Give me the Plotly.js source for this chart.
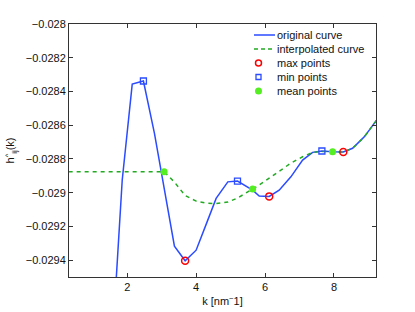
<!DOCTYPE html>
<html>
<head>
<meta charset="utf-8">
<script src="https://cdn.plot.ly/plotly-3.0.1.min.js"></script>
<style>html,body{margin:0;padding:0;background:#fff;}#chart{width:415px;height:312px;}</style>
</head>
<body>
<div id="chart"></div>
<script>
// original curve
const kOrig = [1.55, 1.855, 2.145, 2.47, 2.79, 3.08, 3.37, 3.68, 4.0, 4.29, 4.58, 4.92, 5.2, 5.64, 5.83, 6.12, 6.41, 6.75, 7.09, 7.38, 7.65, 7.96, 8.27, 8.54, 8.88, 9.25];
const hOrig = [-0.02995, -0.028925, -0.028356, -0.028338, -0.028648, -0.028985, -0.029317, -0.029404, -0.029341, -0.029188, -0.029034, -0.028936, -0.028931, -0.028985, -0.029020, -0.029022, -0.028985, -0.028906, -0.028807, -0.028761, -0.028753, -0.028757, -0.028759, -0.028737, -0.028669, -0.028567];
// interpolated curve
const kInterp = [0.3, 3.07, 3.37, 3.68, 4.0, 4.3, 4.58, 4.92, 5.2, 5.64, 5.83, 6.12, 6.41, 6.75, 7.09, 7.38, 7.65, 7.96, 8.27, 8.54, 8.88, 9.25];
const hInterp = [-0.028876, -0.028876, -0.028937, -0.029017, -0.029050, -0.029062, -0.029065, -0.029056, -0.029032, -0.028979, -0.028955, -0.028914, -0.028872, -0.028825, -0.028787, -0.028761, -0.028756, -0.028757, -0.028759, -0.028737, -0.028669, -0.028567];
// extrema and means
const kMax = [3.68, 6.12, 8.27];
const hMax = [-0.029404, -0.029022, -0.028759];
const kMin = [2.47, 5.2, 7.65];
const hMin = [-0.028338, -0.028931, -0.028753];
const kMean = [3.07, 5.64, 7.96];
const hMean = [-0.028876, -0.028979, -0.028757];
// ticks
const xTicks = [2, 4, 6, 8];
const yTicks = [-0.028, -0.0282, -0.0284, -0.0286, -0.0288, -0.029, -0.0292, -0.0294];
const yTickText = yTicks.map(v => '\u2212' + String(Math.abs(v)));
// legend labels
const legendLabels = ['original curve', 'interpolated curve', 'max points', 'min points', 'mean points'];

const BLUE = '#2a4bff', DGREEN = '#22aa22', RED = '#ff0000', LGREEN = '#55ee22';
const FONT = 'Liberation Sans, Arial, sans-serif';

const traces = [
  {x: kOrig, y: hOrig, mode: 'lines', name: legendLabels[0], line: {color: BLUE, width: 1.5}},
  {x: kInterp, y: hInterp, mode: 'lines', name: legendLabels[1], line: {color: DGREEN, width: 1.5, dash: '4px,4px'}},
  {x: kMax, y: hMax, mode: 'markers', name: legendLabels[2], cliponaxis: false,
   marker: {symbol: 'circle-open', size: 7, color: RED, line: {width: 1.5, color: RED}}},
  {x: kMin, y: hMin, mode: 'markers', name: legendLabels[3], cliponaxis: false,
   marker: {symbol: 'square-open', size: 6, color: BLUE, line: {width: 1.3, color: BLUE}}},
  {x: kMean, y: hMean, mode: 'markers', name: legendLabels[4], cliponaxis: false,
   marker: {symbol: 'circle', size: 7, color: LGREEN}}
];

// manual legend (pixel layout converted to paper coords)
const L = 69, T = 24, W = 307, H = 253;
const px = p => (p - L) / W;
const py = p => (T + H - p) / H;
const rowY = [35, 49, 63, 77, 91];
const shapes = [];
const annotations = [];
// line samples
shapes.push({type: 'line', xref: 'paper', yref: 'paper', x0: px(254), x1: px(275), y0: py(rowY[0]), y1: py(rowY[0]), line: {color: BLUE, width: 1.5}});
shapes.push({type: 'line', xref: 'paper', yref: 'paper', x0: px(254), x1: px(275), y0: py(rowY[1]), y1: py(rowY[1]), line: {color: DGREEN, width: 1.5, dash: '4px,3px'}});
// marker samples
shapes.push({type: 'circle', xref: 'paper', yref: 'paper', xsizemode: 'pixel', ysizemode: 'pixel',
  xanchor: px(258.5), yanchor: py(rowY[2]), x0: -3, x1: 3, y0: -3, y1: 3, line: {color: RED, width: 1.5}});
shapes.push({type: 'rect', xref: 'paper', yref: 'paper', xsizemode: 'pixel', ysizemode: 'pixel',
  xanchor: px(258.5), yanchor: py(rowY[3]), x0: -2.5, x1: 2.5, y0: -2.5, y1: 2.5, line: {color: BLUE, width: 1.3}});
shapes.push({type: 'circle', xref: 'paper', yref: 'paper', xsizemode: 'pixel', ysizemode: 'pixel',
  xanchor: px(258.5), yanchor: py(rowY[4]), x0: -3.5, x1: 3.5, y0: -3.5, y1: 3.5, fillcolor: LGREEN, line: {width: 0}});
legendLabels.forEach((t, i) => {
  annotations.push({text: t, xref: 'paper', yref: 'paper', x: px(275), y: py(rowY[i]),
    xanchor: 'left', yanchor: 'middle', showarrow: false, font: {family: FONT, size: 11, color: '#111'}});
});

const axisCommon = {
  showgrid: false, zeroline: false, showline: true, mirror: 'ticks',
  linecolor: '#333', linewidth: 1, ticks: 'inside', ticklen: 4, tickcolor: '#333',
  tickfont: {family: FONT, size: 11, color: '#111'}
};

const layout = {
  width: 415, height: 312,
  margin: {l: 69, r: 39, t: 24, b: 35},
  paper_bgcolor: '#fff', plot_bgcolor: '#fff',
  showlegend: false,
  shapes: shapes,
  annotations: annotations,
  xaxis: Object.assign({}, axisCommon, {
    range: [0.31, 9.22], tickmode: 'array', tickvals: xTicks, ticktext: xTicks.map(String),
    title: {text: 'k [nm<sup>\u2212</sup>1]', standoff: 5, font: {family: FONT, size: 11, color: '#111'}}
  }),
  yaxis: Object.assign({}, axisCommon, {
    range: [-0.0295, -0.028], tickmode: 'array', tickvals: yTicks, ticktext: yTickText,
    title: {text: 'h<sup>^</sup><sub>ij</sub>(k)', standoff: 8, font: {family: FONT, size: 11, color: '#111'}}
  })
};

Plotly.newPlot('chart', traces, layout, {displayModeBar: false, staticPlot: true});
</script>
</body>
</html>
